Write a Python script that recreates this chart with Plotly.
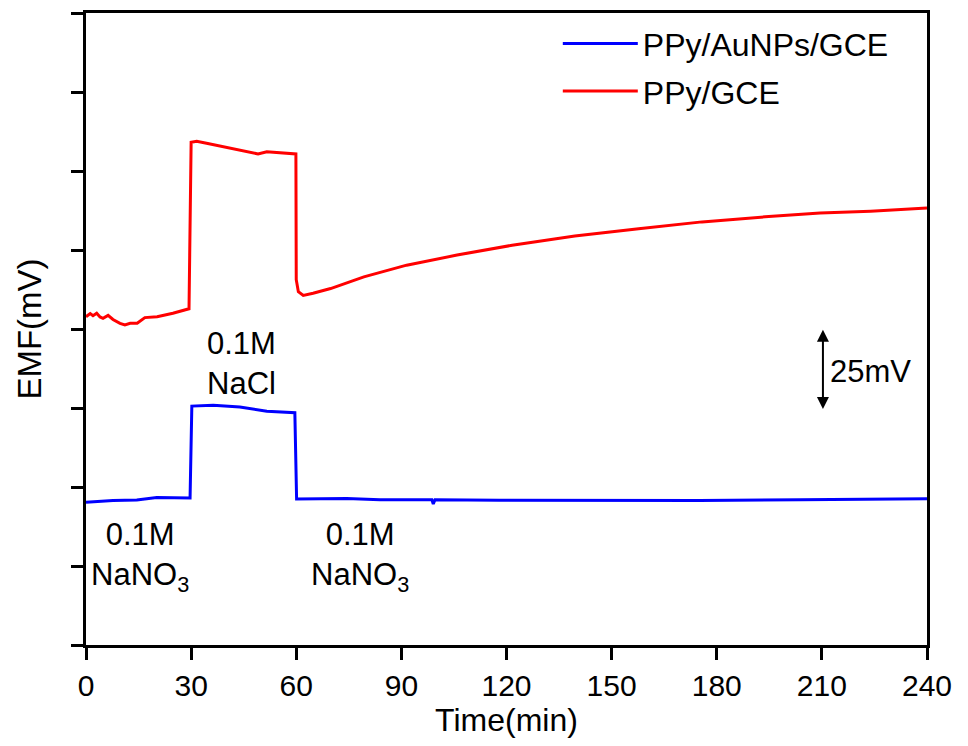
import plotly.graph_objects as go

# PPy/GCE (red) — time (min), EMF (mV, arbitrary offset)
red_t = [0, 1.2, 2.0, 3.05, 4.0, 4.85, 6.3, 7.7, 9.7, 11.1, 12.6, 14.6, 16.8, 20.3, 24.8, 29.4,
         30.0, 31.6, 34.4, 40.2, 49.1, 51.6, 59.9,
         60.0, 60.6, 62.0, 64.8, 69.8, 79.3, 91.5, 105.9, 121.6, 139.5, 157.7, 175.8,
         193.8, 209.5, 223.9, 240]
red_v = [103.9, 104.9, 104.2, 105.0, 103.8, 103.4, 104.3, 103.0, 101.8, 101.3, 101.8, 101.8, 103.6, 103.9, 105.0, 106.4,
         159.1, 159.4, 158.8, 157.5, 155.4, 156.1, 155.4,
         115.6, 111.8, 110.6, 111.3, 112.8, 116.5, 120.2, 123.4, 126.5, 129.4, 131.7, 133.9,
         135.5, 136.7, 137.3, 138.3]

# PPy/AuNPs/GCE (blue)
blue_t = [0, 7.7, 14.5, 20.2, 29.7,
          30.2, 36.3, 43.9, 51.6, 59.6,
          60.1, 74.4, 83.9, 95.3, 98.7, 99.1, 99.6, 118, 146.7, 175, 203.8, 240]
blue_v = [45.2, 45.7, 45.9, 46.7, 46.5,
          75.6, 75.9, 75.3, 74.0, 73.5,
          46.2, 46.4, 46.0, 46.0, 46.0, 44.6, 46.0, 45.8, 45.7, 45.7, 46.0, 46.3]

x_ticks = [0, 30, 60, 90, 120, 150, 180, 210, 240]

FONT = "Arial, Liberation Sans, sans-serif"

fig = go.Figure()
fig.add_trace(go.Scatter(x=blue_t, y=blue_v, mode="lines", name="PPy/AuNPs/GCE",
                         legendgroup="a", line=dict(color="#0000ff", width=3)))
fig.add_trace(go.Scatter(x=red_t, y=red_v, mode="lines", name="PPy/GCE",
                         legendgroup="b", line=dict(color="#ff0000", width=3)))

fig.update_layout(
    width=968, height=746,
    margin=dict(l=86, r=41, t=10, b=101),
    paper_bgcolor="white", plot_bgcolor="white",
    font=dict(family=FONT, size=30, color="black"),
    showlegend=True,
    legend=dict(x=0.561, y=0.995, xanchor="left", yanchor="top",
                bgcolor="rgba(0,0,0,0)", font=dict(size=32), itemwidth=75,
                traceorder="grouped", tracegroupgap=3),
    xaxis=dict(range=[0, 240], tickvals=x_ticks, ticktext=[str(v) for v in x_ticks],
               showline=True, linecolor="black", linewidth=3, mirror=True,
               ticks="outside", ticklen=12, tickwidth=3, tickcolor="black",
               showgrid=False, zeroline=False,
               tickfont=dict(size=30),
               title=dict(text="Time(min)", font=dict(size=32), standoff=8)),
    yaxis=dict(range=[0, 200], dtick=25, showticklabels=False,
               showline=True, linecolor="black", linewidth=3, mirror=True,
               ticks="outside", ticklen=12, tickwidth=3, tickcolor="black",
               showgrid=False, zeroline=False,
               title=dict(text="EMF(mV)", font=dict(size=33), standoff=20)),
)

annos = [
    dict(x=44.5, y=89, text="0.1M<br>NaCl"),
    dict(x=15.5, y=28, text="0.1M<br>NaNO<sub>3</sub>"),
    dict(x=78.2, y=28, text="0.1M<br>NaNO<sub>3</sub>"),
]
for a in annos:
    fig.add_annotation(x=a["x"], y=a["y"], text=a["text"], showarrow=False,
                       xref="x", yref="y", font=dict(size=31), align="center")

# 25 mV scale arrow
fig.add_annotation(x=210.3, y=99.8, ax=210.3, ay=74.2, xref="x", yref="y",
                   axref="x", ayref="y", text="", showarrow=True,
                   arrowhead=2, startarrowhead=2, arrowside="end+start",
                   arrowsize=1.2, startarrowsize=1.2, arrowwidth=2, arrowcolor="black")
fig.add_annotation(x=211.7, y=86.5, xref="x", yref="y", text="25mV", showarrow=False,
                   xanchor="left", font=dict(size=31))

fig.write_html("out.html")
